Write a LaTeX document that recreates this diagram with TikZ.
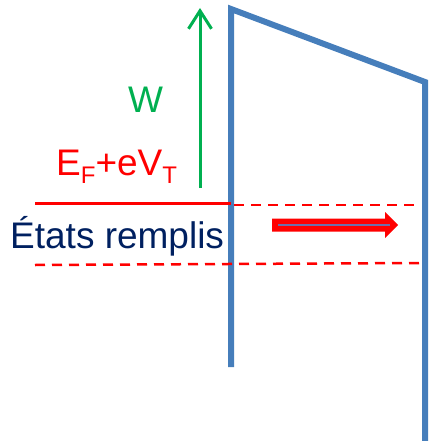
\documentclass[tikz,border=0pt]{standalone}
\usepackage{fontspec}
\setmainfont{Liberation Sans}
\usetikzlibrary{arrows.meta}
\definecolor{bandblue}{RGB}{70,126,187}
\definecolor{wgreen}{RGB}{0,176,80}
\definecolor{navy}{RGB}{0,32,96}
\definecolor{shaftgray}{RGB}{110,110,170}
\tikzset{
  band/.style={draw=bandblue, line width=6pt, line join=miter},
  lvl/.style={draw=red, line width=3pt},
  lvldash/.style={draw=red, line width=2.5pt, dash pattern=on 10pt off 7pt},
  lbl/.style={inner sep=0pt, anchor=base west, font=\fontsize{37}{37}\selectfont},
}
\newcommand{\sbs}[1]{\raisebox{-8pt}{\fontsize{24}{24}\selectfont #1}}
\begin{document}
\begin{tikzpicture}[x=1pt,y=-1pt]
\useasboundingbox (0,0) rectangle (428,441);
% barrier
\draw[band] (231,367) -- (231,9) -- (425,82) -- (425,441);
% levels
\draw[lvl] (35,203) -- (231,203);
\draw[lvldash] (234,205) -- (420,205);
\draw[lvldash] (35,265) -- (420,263);
% W arrow
\coordinate (wb) at (200,188);
\coordinate (wt) at (200,8);
\draw[wgreen, line width=3pt, -{Straight Barb[length=18pt,width=23pt,line width=3pt]}] (wb) -- (wt);
% labels
\node[lbl, text=wgreen] (W) at (128,113) {W};
\node[lbl, text=red] (EF) at (56,175) {E\sbs{F}+eV\sbs{T}};
\node[lbl, text=navy] (ET) at (10,248) {États remplis};
% red arrow
\fill[red] (272,218.5) -- (385,218.5) -- (385,212) -- (398,225) -- (385,238) -- (385,231.5) -- (272,231.5) -- cycle;
\draw[shaftgray, line width=1.2pt] (278,225) -- (390,225);
\end{tikzpicture}
\end{document}
